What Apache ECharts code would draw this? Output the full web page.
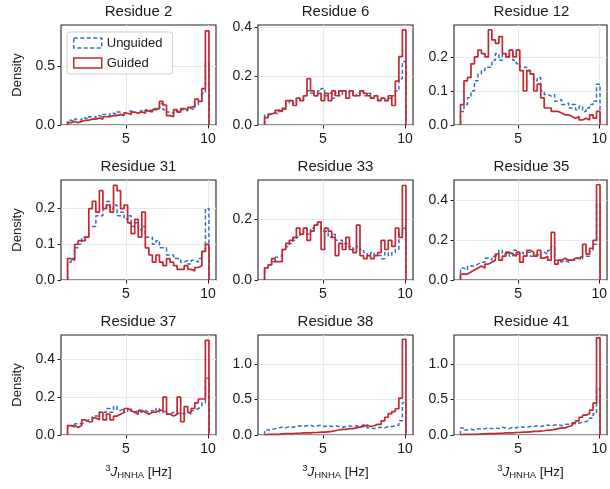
<!DOCTYPE html>
<html>
<head>
<meta charset="utf-8">
<script src="https://cdn.jsdelivr.net/npm/echarts@6/dist/echarts.min.js"></script>
<style>
  html, body { margin: 0; padding: 0; background: #fff; }
  #chart { width: 610px; height: 489px; }
</style>
</head>
<body>
<div id="chart"></div>
<script>
// histogram bins: 40 bins starting at 1.45 Hz, 0.215 Hz wide
const binStart = 1.45;
const binWidth = 0.215;
const xTicks = [5, 10];

const residues = ['Residue 2', 'Residue 6', 'Residue 12', 'Residue 31', 'Residue 33', 'Residue 35', 'Residue 37', 'Residue 38', 'Residue 41'];

const unguided2 = [0.04, 0.03, 0.05, 0.04, 0.06, 0.05, 0.07, 0.06, 0.08, 0.07, 0.09, 0.08, 0.10, 0.09, 0.11, 0.10, 0.11, 0.12, 0.11, 0.10, 0.12, 0.11, 0.13, 0.12, 0.14, 0.13, 0.18, 0.13, 0.11, 0.10, 0.12, 0.11, 0.13, 0.12, 0.14, 0.13, 0.17, 0.20, 0.27, 0.53];
const guided2 = [0.02, 0.03, 0.02, 0.03, 0.04, 0.04, 0.05, 0.05, 0.06, 0.05, 0.07, 0.07, 0.08, 0.08, 0.09, 0.08, 0.10, 0.09, 0.11, 0.10, 0.11, 0.10, 0.12, 0.11, 0.13, 0.14, 0.20, 0.17, 0.08, 0.07, 0.13, 0.11, 0.14, 0.13, 0.15, 0.16, 0.22, 0.20, 0.31, 0.80];

const unguided6 = [0.04, 0.045, 0.05, 0.045, 0.06, 0.07, 0.09, 0.10, 0.09, 0.11, 0.10, 0.12, 0.14, 0.13, 0.12, 0.14, 0.15, 0.12, 0.13, 0.11, 0.13, 0.12, 0.14, 0.13, 0.14, 0.12, 0.13, 0.14, 0.12, 0.13, 0.11, 0.12, 0.10, 0.11, 0.10, 0.11, 0.12, 0.14, 0.19, 0.26];
const guided6 = [0.03, 0.045, 0.05, 0.06, 0.055, 0.065, 0.10, 0.10, 0.08, 0.11, 0.10, 0.12, 0.19, 0.14, 0.12, 0.13, 0.10, 0.13, 0.10, 0.14, 0.12, 0.14, 0.14, 0.11, 0.14, 0.12, 0.12, 0.14, 0.13, 0.12, 0.11, 0.12, 0.10, 0.11, 0.10, 0.12, 0.08, 0.18, 0.28, 0.39];

const unguided12 = [0.04, 0.06, 0.08, 0.10, 0.13, 0.15, 0.16, 0.17, 0.17, 0.19, 0.21, 0.19, 0.21, 0.20, 0.22, 0.19, 0.18, 0.17, 0.17, 0.16, 0.15, 0.13, 0.14, 0.10, 0.09, 0.085, 0.09, 0.07, 0.075, 0.06, 0.065, 0.05, 0.06, 0.045, 0.055, 0.04, 0.05, 0.06, 0.07, 0.12];
const guided12 = [0.06, 0.13, 0.14, 0.18, 0.20, 0.22, 0.21, 0.20, 0.28, 0.25, 0.24, 0.26, 0.21, 0.20, 0.22, 0.20, 0.22, 0.16, 0.10, 0.16, 0.15, 0.10, 0.12, 0.08, 0.05, 0.05, 0.04, 0.04, 0.035, 0.03, 0.03, 0.025, 0.02, 0.025, 0.015, 0.02, 0.015, 0.03, 0.02, 0.04];

const unguided31 = [0.05, 0.06, 0.09, 0.10, 0.12, 0.12, 0.15, 0.15, 0.18, 0.18, 0.20, 0.22, 0.20, 0.21, 0.18, 0.19, 0.17, 0.18, 0.15, 0.16, 0.14, 0.15, 0.12, 0.12, 0.10, 0.11, 0.09, 0.09, 0.07, 0.07, 0.06, 0.06, 0.05, 0.055, 0.045, 0.055, 0.05, 0.06, 0.08, 0.20];
const guided31 = [0.06, 0.055, 0.10, 0.11, 0.11, 0.12, 0.20, 0.22, 0.19, 0.25, 0.20, 0.21, 0.19, 0.265, 0.25, 0.20, 0.21, 0.16, 0.13, 0.17, 0.12, 0.19, 0.09, 0.07, 0.05, 0.07, 0.05, 0.04, 0.06, 0.05, 0.04, 0.03, 0.03, 0.04, 0.03, 0.025, 0.035, 0.04, 0.08, 0.10];

const unguided33 = [0.04, 0.05, 0.06, 0.075, 0.08, 0.10, 0.11, 0.12, 0.13, 0.14, 0.15, 0.17, 0.15, 0.17, 0.18, 0.19, 0.16, 0.16, 0.14, 0.15, 0.13, 0.13, 0.12, 0.12, 0.11, 0.10, 0.11, 0.10, 0.09, 0.08, 0.09, 0.08, 0.08, 0.07, 0.09, 0.08, 0.09, 0.10, 0.15, 0.17];
const guided33 = [0.04, 0.05, 0.07, 0.06, 0.06, 0.10, 0.12, 0.13, 0.14, 0.17, 0.15, 0.17, 0.13, 0.16, 0.18, 0.19, 0.10, 0.17, 0.16, 0.14, 0.08, 0.12, 0.10, 0.14, 0.10, 0.09, 0.18, 0.08, 0.07, 0.08, 0.07, 0.08, 0.09, 0.13, 0.10, 0.13, 0.11, 0.17, 0.14, 0.31];

const unguided35 = [0.06, 0.05, 0.07, 0.07, 0.08, 0.09, 0.09, 0.11, 0.10, 0.12, 0.13, 0.15, 0.13, 0.14, 0.12, 0.15, 0.13, 0.14, 0.12, 0.14, 0.12, 0.13, 0.12, 0.14, 0.13, 0.15, 0.17, 0.10, 0.09, 0.10, 0.09, 0.10, 0.10, 0.11, 0.10, 0.12, 0.12, 0.15, 0.18, 0.38];
const guided35 = [0.03, 0.03, 0.04, 0.05, 0.06, 0.07, 0.06, 0.08, 0.09, 0.10, 0.13, 0.10, 0.12, 0.14, 0.13, 0.12, 0.14, 0.09, 0.12, 0.15, 0.14, 0.12, 0.15, 0.11, 0.12, 0.10, 0.24, 0.08, 0.10, 0.11, 0.10, 0.10, 0.11, 0.11, 0.12, 0.18, 0.13, 0.16, 0.20, 0.48];

const unguided37 = [0.05, 0.04, 0.06, 0.06, 0.07, 0.08, 0.08, 0.10, 0.10, 0.12, 0.12, 0.14, 0.12, 0.15, 0.13, 0.14, 0.12, 0.14, 0.12, 0.13, 0.12, 0.13, 0.12, 0.13, 0.12, 0.14, 0.12, 0.13, 0.11, 0.12, 0.11, 0.12, 0.11, 0.12, 0.11, 0.13, 0.14, 0.15, 0.17, 0.30];
const guided37 = [0.05, 0.05, 0.04, 0.05, 0.08, 0.07, 0.07, 0.09, 0.08, 0.12, 0.08, 0.11, 0.08, 0.10, 0.11, 0.12, 0.14, 0.13, 0.12, 0.11, 0.13, 0.12, 0.11, 0.12, 0.12, 0.13, 0.13, 0.20, 0.11, 0.10, 0.11, 0.20, 0.07, 0.15, 0.12, 0.14, 0.17, 0.19, 0.19, 0.50];

const unguided38 = [0.07, 0.08, 0.09, 0.10, 0.11, 0.10, 0.12, 0.11, 0.12, 0.13, 0.12, 0.13, 0.14, 0.12, 0.13, 0.14, 0.12, 0.13, 0.12, 0.13, 0.12, 0.11, 0.12, 0.13, 0.12, 0.13, 0.12, 0.14, 0.13, 0.10, 0.09, 0.10, 0.11, 0.10, 0.12, 0.12, 0.13, 0.14, 0.20, 0.46];
const guided38 = [0.01, 0.01, 0.01, 0.01, 0.015, 0.02, 0.02, 0.02, 0.025, 0.025, 0.03, 0.03, 0.03, 0.035, 0.035, 0.04, 0.04, 0.045, 0.05, 0.06, 0.07, 0.08, 0.08, 0.09, 0.09, 0.10, 0.11, 0.12, 0.14, 0.12, 0.13, 0.15, 0.15, 0.20, 0.25, 0.30, 0.33, 0.37, 0.52, 1.35];

const unguided41 = [0.10, 0.07, 0.08, 0.07, 0.09, 0.08, 0.09, 0.10, 0.09, 0.10, 0.09, 0.11, 0.10, 0.09, 0.11, 0.10, 0.12, 0.11, 0.11, 0.12, 0.12, 0.13, 0.12, 0.13, 0.14, 0.13, 0.14, 0.15, 0.13, 0.15, 0.15, 0.16, 0.16, 0.17, 0.18, 0.19, 0.21, 0.24, 0.30, 0.65];
const guided41 = [0.01, 0.01, 0.01, 0.01, 0.01, 0.015, 0.015, 0.02, 0.02, 0.02, 0.025, 0.025, 0.03, 0.03, 0.03, 0.035, 0.035, 0.04, 0.04, 0.045, 0.05, 0.05, 0.055, 0.06, 0.07, 0.07, 0.08, 0.09, 0.10, 0.10, 0.12, 0.13, 0.17, 0.20, 0.25, 0.28, 0.30, 0.35, 0.45, 1.37];

const unguidedAll = [unguided2, unguided6, unguided12, unguided31, unguided33, unguided35, unguided37, unguided38, unguided41];
const guidedAll = [guided2, guided6, guided12, guided31, guided33, guided35, guided37, guided38, guided41];

const yMax = [0.85, 0.41, 0.294, 0.28, 0.328, 0.504, 0.528, 1.41, 1.41];
const yTicks = [
  [0, 0.5], [0, 0.2, 0.4], [0, 0.1, 0.2],
  [0, 0.1, 0.2], [0, 0.2], [0, 0.2, 0.4],
  [0, 0.2, 0.4], [0, 0.5, 1.0], [0, 0.5, 1.0]
];

const BLUE = '#3470b8';
const RED = '#c42830';
const INK = '#1a1a1a';
const FONT = "'Liberation Sans', Arial, sans-serif";

const colLeft = [61, 258, 454];
const rowTop = [25, 180, 335];
const gw = 155, gh = 100;

// step outline like matplotlib histtype='step'
const stepData = (vals) => {
  const pts = [[binStart, 0]];
  vals.forEach((v, i) => pts.push([binStart + i * binWidth, v]));
  const end = binStart + vals.length * binWidth;
  pts.push([end, vals[vals.length - 1]]);
  pts.push([end, 0]);
  return pts;
};

const grids = [], xAxes = [], yAxes = [], series = [], titles = [];

residues.forEach((name, i) => {
  const r = Math.floor(i / 3), c = i % 3;
  grids.push({
    left: colLeft[c], top: rowTop[r], width: gw, height: gh,
    show: true, borderColor: '#222', borderWidth: 1.1, backgroundColor: 'transparent'
  });
  titles.push({
    text: name, left: colLeft[c] + gw / 2, top: rowTop[r] - 20.5, textAlign: 'center', padding: 0,
    textStyle: { fontSize: 15, fontWeight: 'normal', color: INK, fontFamily: FONT }
  });
  xAxes.push({
    type: 'value', gridIndex: i, min: 1.05, max: 10.48,
    axisLine: { show: false },
    axisTick: { customValues: xTicks, length: 3.5, lineStyle: { color: '#222' } },
    axisLabel: { customValues: xTicks, color: INK, fontSize: 14, fontFamily: FONT, margin: 7 },
    splitLine: { show: true, lineStyle: { color: '#e8e8e8', width: 1 } },
    name: r === 2 ? '{sup|3}{it|J}{sub|HNHA} [Hz]' : '',
    nameLocation: 'middle', nameGap: 28,
    nameTextStyle: {
      color: INK, fontSize: 13.5, fontFamily: FONT,
      rich: {
        sup: { fontSize: 9.5, padding: [0, 0, 8, 0], color: INK, fontFamily: FONT },
        it: { fontSize: 13.5, fontStyle: 'italic', color: INK, fontFamily: FONT },
        sub: { fontSize: 9.5, padding: [7, 0, 0, 0], color: INK, fontFamily: FONT }
      }
    }
  });
  yAxes.push({
    type: 'value', gridIndex: i, min: 0, max: yMax[i],
    axisLine: { show: false },
    axisTick: { customValues: yTicks[i], length: 3.5, lineStyle: { color: '#222' } },
    axisLabel: { customValues: yTicks[i], color: INK, fontSize: 14, fontFamily: FONT, margin: 6,
      formatter: (v) => v.toFixed(1) },
    splitLine: { show: true, lineStyle: { color: '#e8e8e8', width: 1 } },
    name: c === 0 ? 'Density' : '',
    nameLocation: 'middle', nameGap: 37,
    nameTextStyle: { color: INK, fontSize: 13, fontFamily: FONT }
  });
  series.push({
    name: 'Unguided', type: 'line', xAxisIndex: i, yAxisIndex: i,
    data: stepData(unguidedAll[i]), step: 'end', showSymbol: false, symbol: 'none',
    lineStyle: { color: BLUE, width: 1.5, type: [4, 2.5] }, itemStyle: { color: BLUE },
    z: 2
  });
  series.push({
    name: 'Guided', type: 'line', xAxisIndex: i, yAxisIndex: i,
    data: stepData(guidedAll[i]), step: 'end', showSymbol: false, symbol: 'none',
    lineStyle: { color: RED, width: 1.7 }, itemStyle: { color: RED },
    z: 3
  });
});

const chart = echarts.init(document.getElementById('chart'), null, { renderer: 'canvas' });
chart.setOption({
  animation: false,
  backgroundColor: '#fff',
  title: titles,
  legend: {
    left: 67, top: 32, orient: 'vertical',
    itemWidth: 28, itemHeight: 10, itemGap: 6,
    padding: [4, 10, 4, 6],
    borderColor: '#cfcfcf', borderWidth: 1, borderRadius: 3,
    backgroundColor: 'rgba(255,255,255,0.85)',
    textStyle: { color: INK, fontSize: 13, fontFamily: FONT, lineHeight: 14 },
    data: [
      { name: 'Unguided', icon: 'rect',
        itemStyle: { color: 'rgba(0,0,0,0)', borderColor: BLUE, borderWidth: 1.5, borderType: [4, 2.5] } },
      { name: 'Guided', icon: 'rect',
        itemStyle: { color: 'rgba(0,0,0,0)', borderColor: RED, borderWidth: 1.5 } }
    ]
  },
  grid: grids,
  xAxis: xAxes,
  yAxis: yAxes,
  series: series
});
</script>
</body>
</html>
